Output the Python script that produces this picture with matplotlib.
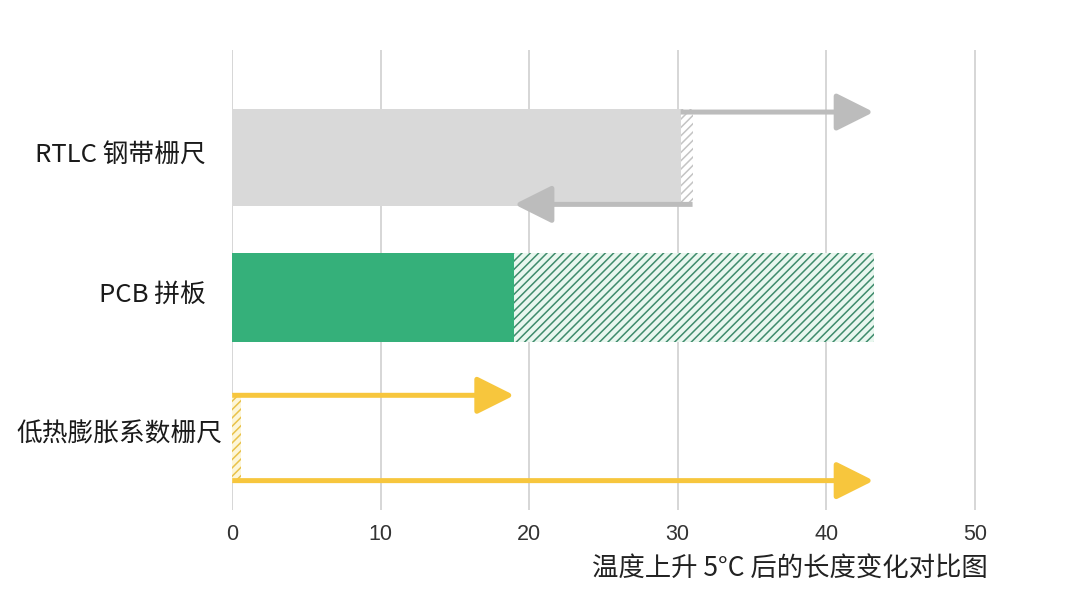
import numpy as np
import matplotlib
matplotlib.use("Agg")
from matplotlib import pyplot as plt

# Datos
categorias = ['RTLC 钢带栅尺', 'PCB 拼板', '低热膨胀系数栅尺']
solido = [30.2, 19.0, 0.0]        # parte llena de la barra
rayado = [0.8, 24.2, 0.6]         # parte rayada (cambio de longitud)
flecha_sup = [43.2, None, 19.0]   # fin de la flecha superior
flecha_inf = [19.0, None, 43.2]   # fin de la flecha inferior
ticks_x = [0, 10, 20, 30, 40, 50]
titulo_x = '温度上升 5°C 后的长度变化对比图'

plt.rcParams['font.family'] = ['Noto Sans CJK SC', 'DejaVu Sans']
plt.rcParams['hatch.linewidth'] = 1.1

col_solido = ['#d9d9d9', '#35b07a', '#f7c63d']
col_fondo = ['#ffffff', '#e9f7ef', '#fdf6d8']
col_rayas = ['#c4c4c4', '#3f8c6c', '#e9c24a']
col_flecha = ['#bcbcbc', None, '#f7c63d']
alturas = [0.69, 0.64, 0.64]

fig = plt.figure(figsize=(10.8, 6), dpi=100)
ax = fig.add_axes([0.215, 0.15, 0.715, 0.767])

pos_y = [2, 1, 0]
for i in range(len(categorias)):
    y = pos_y[i]
    h = alturas[i]
    if solido[i] > 0:
        ax.barh(y, solido[i], height=h, color=col_solido[i], zorder=2)
    ax.barh(y, rayado[i], left=solido[i], height=h, color=col_fondo[i],
            edgecolor=col_rayas[i], hatch='////', linewidth=0, zorder=2)
    if flecha_sup[i] is not None:
        estilo = dict(arrowstyle='-|>,head_length=1.0,head_width=0.5',
                      color=col_flecha[i], lw=3.6, mutation_scale=23,
                      shrinkA=0, shrinkB=0, capstyle='butt')
        y_sup = y + h / 2 - 0.02
        y_inf = y - h / 2 + 0.01
        if i == 0:
            ax.annotate('', xy=(flecha_sup[i], y_sup), xytext=(solido[i], y_sup),
                        arrowprops=estilo, zorder=3)
            ax.annotate('', xy=(flecha_inf[i], y_inf),
                        xytext=(solido[i] + rayado[i], y_inf),
                        arrowprops=estilo, zorder=3)
        else:
            ax.annotate('', xy=(flecha_sup[i], y_sup), xytext=(0, y_sup),
                        arrowprops=estilo, zorder=3)
            ax.annotate('', xy=(flecha_inf[i], y_inf), xytext=(0, y_inf),
                        arrowprops=estilo, zorder=3)

# Etiquetas de categorias
desplaz = [-1.8, -1.8, -0.65]
for i in range(len(categorias)):
    ax.text(desplaz[i], pos_y[i] + 0.02, categorias[i], ha='right', va='center',
            fontsize=18.5, color='#1a1a1a')

ax.set_xlim(0, 52)
ax.set_ylim(-0.52, 2.77)
ax.set_xticks(ticks_x)
ax.set_xticklabels([str(t) for t in ticks_x], fontsize=15.5, color='#333333',
                   family=['Liberation Sans', 'DejaVu Sans'])
ax.set_yticks([])
ax.tick_params(axis='x', length=0, pad=10)
ax.grid(axis='x', color='#cccccc', linewidth=1.1, zorder=0)
ax.set_axisbelow(True)
for s in ax.spines.values():
    s.set_visible(False)

fig.text(0.915, 0.053, titulo_x, ha='right', va='center', fontsize=19,
         color='#222222')

plt.savefig('out.png', dpi=100)
